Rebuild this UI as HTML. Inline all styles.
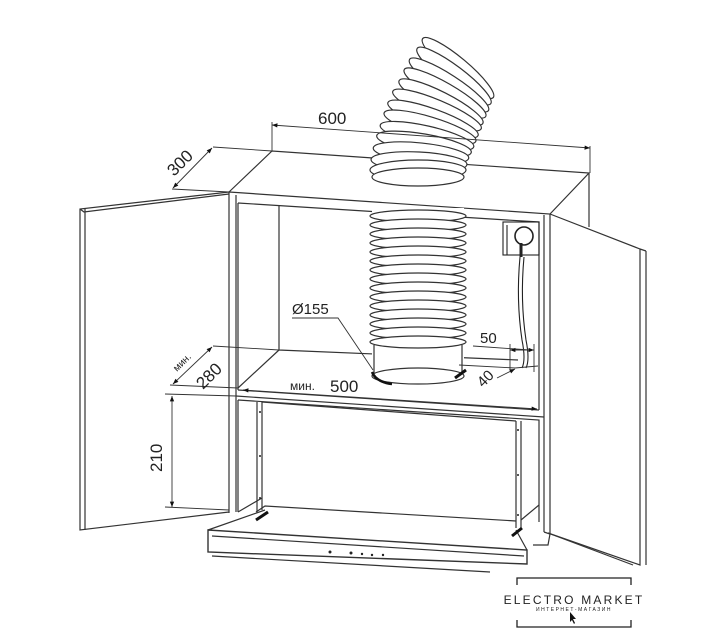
<!DOCTYPE html>
<html><head><meta charset="utf-8"><style>
html,body{margin:0;padding:0;background:#fff;width:711px;height:640px;overflow:hidden}
svg{display:block}
text{font-family:"Liberation Sans",sans-serif;fill:#222}
</style></head><body>
<svg width="711" height="640" viewBox="0 0 711 640" xmlns="http://www.w3.org/2000/svg">
<defs>
<marker id="a" viewBox="0 0 10 10" refX="10" refY="5" markerWidth="9" markerHeight="6" orient="auto-start-reverse"><path d="M0,1 L10,5 L0,9z" fill="#111"/></marker>
</defs>
<g fill="none" stroke="#333" stroke-width="1.2">
<path d="M229,192 L272,151 L589,173 L550,214"/>
<path d="M589,173 L589,227"/>
<path d="M229,192 L550,214 L550,534 M229,192 L229,513"/>
<path d="M236,195 L236,512"/>
<path d="M544,215 L544,532"/>
<path d="M238,203 L539,222 L539,410"/>
<path d="M238,203 L238,390"/>
<path d="M279,205 L279,350 L518,360"/>
<path d="M279,350 L238,388"/>
<path d="M238,390 L539,410"/>
<path d="M236,396 L544,417"/>
<path d="M238,400 L539,420 L539,522"/>
<path d="M238,400 L238,512"/>
<path d="M229,192 L80,209 L80,530 L229,512"/>
<path d="M85,208 L85,530"/>
<path d="M80,209 L84,212 L229,194"/>
<path d="M550,214 L640,249 L640,565 L548,533"/>
<path d="M646,251 L646,565 M640,249 L646,251"/>
<path d="M548,533 L633,565"/>
<path d="M257,402 L257,512 M262,402 L262,510"/>
<path d="M516,421 L516,528 M521,421 L521,528"/>
<path d="M262,402 L516,421"/>
<path d="M256,512 L265,506 L516,521"/>
<path d="M262,498 L238,512"/>
<path d="M539,505 L521,520"/>
<path d="M208,530 L527,550 L527,564 L208,552 Z" stroke-width="1.4"/>
<path d="M212,536 L524,556"/>
<path d="M212,556 L490,572"/>
<path d="M265,510 L208,530 M516,530 L527,550"/>
<path d="M544,532 L550,534 L548,545 L533,545"/>
</g>
<g fill="#222">
<circle cx="330" cy="552" r="1.5"/><circle cx="351" cy="553" r="1.5"/><circle cx="362" cy="554" r="1.2"/><circle cx="372" cy="555" r="1.2"/><circle cx="383" cy="555" r="1.2"/>
<circle cx="260" cy="412" r="1"/><circle cx="260" cy="456" r="1"/><circle cx="260" cy="498" r="1"/>
<circle cx="518" cy="430" r="1"/><circle cx="518" cy="475" r="1"/><circle cx="518" cy="515" r="1"/>
</g>
<path d="M256,520 L268,512" stroke="#111" stroke-width="3"/>
<path d="M512,536 L522,528" stroke="#111" stroke-width="3"/>
<g fill="#fff" stroke="#333" stroke-width="1.2">
<ellipse cx="458" cy="68" rx="46" ry="10" transform="rotate(40 458 68)"/>
<ellipse cx="454" cy="76" rx="46" ry="10" transform="rotate(37 454 76)"/>
<ellipse cx="449" cy="85" rx="47" ry="10" transform="rotate(33 449 85)"/>
<ellipse cx="445" cy="93" rx="47" ry="10" transform="rotate(30 445 93)"/>
<ellipse cx="441" cy="102" rx="47" ry="10" transform="rotate(27 441 102)"/>
<ellipse cx="437" cy="110" rx="48" ry="10" transform="rotate(23 437 110)"/>
<ellipse cx="433" cy="119" rx="48" ry="10" transform="rotate(20 433 119)"/>
<ellipse cx="430" cy="127" rx="48" ry="10" transform="rotate(17 430 127)"/>
<ellipse cx="427" cy="136" rx="48" ry="10" transform="rotate(13 427 136)"/>
<ellipse cx="424" cy="144" rx="48" ry="10" transform="rotate(10 424 144)"/>
<ellipse cx="421" cy="153" rx="48" ry="10" transform="rotate(6 421 153)"/>
<ellipse cx="419" cy="162" rx="48" ry="10" transform="rotate(3 419 162)"/>
<ellipse cx="418" cy="170" rx="48" ry="10"/>
<ellipse cx="418" cy="177" rx="46" ry="9"/>
</g>
<g fill="#fff" stroke="#333" stroke-width="1.2">
<rect x="372" y="208" width="92" height="165" stroke="none"/>
<ellipse cx="418" cy="216" rx="48" ry="6"/>
<ellipse cx="418" cy="225" rx="48" ry="6"/>
<ellipse cx="418" cy="234" rx="48" ry="6"/>
<ellipse cx="418" cy="243" rx="48" ry="6"/>
<ellipse cx="418" cy="252" rx="48" ry="6"/>
<ellipse cx="418" cy="261" rx="48" ry="6"/>
<ellipse cx="418" cy="270" rx="48" ry="6"/>
<ellipse cx="418" cy="279" rx="48" ry="6"/>
<ellipse cx="418" cy="288" rx="48" ry="6"/>
<ellipse cx="418" cy="297" rx="48" ry="6"/>
<ellipse cx="418" cy="306" rx="48" ry="6"/>
<ellipse cx="418" cy="315" rx="48" ry="6"/>
<ellipse cx="418" cy="324" rx="48" ry="6"/>
<ellipse cx="418" cy="333" rx="48" ry="6"/>
<ellipse cx="418" cy="342" rx="48" ry="6"/>
<path d="M374,345 L374,375 M462,345 L462,375" />
<ellipse cx="418" cy="376" rx="46" ry="8"/>
</g>
<path d="M372,372 Q376,382 392,384" stroke="#111" stroke-width="2.5" fill="none"/>
<path d="M455,378 L466,370" stroke="#111" stroke-width="3"/>
<g fill="none" stroke="#222" stroke-width="1.1">
<rect x="503" y="222" width="36" height="33"/>
<path d="M507,225 L507,255"/>
<circle cx="524" cy="236" r="9" stroke-width="1.6"/>
<path d="M521,243 L521,257" stroke-width="3"/>
<path d="M520,257 Q516,300 522,340 Q526,360 522,368 M524,257 Q520,300 526,340 Q530,360 526,368"/>
</g>
<g fill="none" stroke="#333" stroke-width="0.9">
<path d="M272,151 L272,122 M590,173 L590,146"/>
<path d="M272,125 L590,148" marker-start="url(#a)" marker-end="url(#a)"/>
<path d="M272,151 L213,147 M229,192 L172,189"/>
<path d="M212,148 L173,188" marker-start="url(#a)" marker-end="url(#a)"/>
<path d="M279,350 L213,346 M238,388 L170,385"/>
<path d="M212,347 L173,384" marker-start="url(#a)" marker-end="url(#a)"/>
<path d="M236,396 L165,394 M229,510 L165,507"/>
<path d="M172,396 L172,507" marker-start="url(#a)" marker-end="url(#a)"/>
<path d="M243,390 L537,409" marker-start="url(#a)" marker-end="url(#a)"/>
<path d="M292,318 L338,318 L373,370"/>
<path d="M473,346 L530,350 M510,344 L510,370 M534,344 L534,372"/>
<path d="M510,350 L534,350" marker-start="url(#a)" marker-end="url(#a)"/>
<path d="M459,365 L515,368 L538,366"/>
<path d="M497,378 L515,369" marker-end="url(#a)"/>
</g>
<text x="318" y="124" font-size="17">600</text>
<text x="0" y="0" font-size="17" transform="translate(174,177) rotate(-45)">300</text>
<text x="0" y="0" font-size="10" transform="translate(177,372) rotate(-45)">мин.</text>
<text x="0" y="0" font-size="17" transform="translate(203,390) rotate(-45)">280</text>
<text x="0" y="0" font-size="17" transform="translate(162,472) rotate(-90)">210</text>
<text x="290" y="390" font-size="12">мин.</text>
<text x="330" y="392" font-size="17">500</text>
<text x="292" y="314" font-size="15">Ø155</text>
<text x="480" y="343" font-size="15">50</text>
<text x="0" y="0" font-size="15" transform="translate(483,388) rotate(-45)">40</text>
<g fill="none" stroke="#222" stroke-width="1.3">
<path d="M517,585 L517,578 L631,578 L631,585 M517,620 L517,627 L631,627 L631,620"/>
</g>
<text x="574" y="604" font-size="12" text-anchor="middle" letter-spacing="2.2" fill="#111">ELECTRO MARKET</text>
<text x="574" y="611" font-size="5" text-anchor="middle" letter-spacing="1.5" fill="#555">ИНТЕРНЕТ-МАГАЗИН</text>
<path d="M570,612 L570,622 L572,620 L574,624 L575,623 L573,619 L576,619 Z" fill="#111"/>
</svg>
</body></html>
